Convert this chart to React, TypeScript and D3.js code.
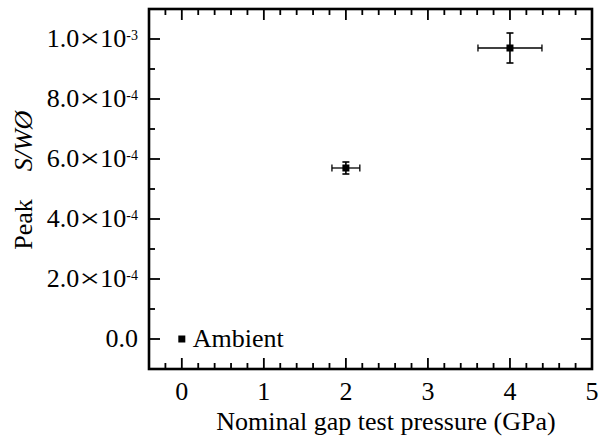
import React from 'react';
import * as d3 from 'd3';

// data
const pressure = [0, 2, 4];
const peak = [0, 5.7e-4, 9.7e-4];
const pressureErr = [0, 0.17, 0.39];
const peakErr = [0, 2e-5, 5e-5];
const pointLabels = ['Ambient', '', ''];

const xTicks = [0, 1, 2, 3, 4, 5];
const yTicks = [0, 2e-4, 4e-4, 6e-4, 8e-4, 1e-3];
const yTickMantissa = ['0.0', '2.0', '4.0', '6.0', '8.0', '1.0'];
const yTickExp = ['', '-4', '-4', '-4', '-4', '-3'];

const W = 602;
const H = 439;
const margin = { top: 9, right: 10, bottom: 70, left: 149 };
const width = W - margin.left - margin.right;
const height = H - margin.top - margin.bottom;
const font = '"Liberation Serif", "Times New Roman", Times, serif';
const fs = 26;

export default function App() {
	const x = d3.scaleLinear().domain([-0.4, 5]).range([0, width]);
	const y = d3.scaleLinear().domain([-1e-4, 1.1e-3]).range([height, 0]);

	// minor ticks every 0.2 GPa and 1e-4
	const xMinor = d3.range(-1, 26).map(i => i * 0.2).filter(v => v > -0.39 && v < 4.99);
	const yMinor = d3.range(0, 11).map(i => i * 1e-4);
	const isXMajor = (v: number) => Math.abs(v - Math.round(v)) < 1e-6;
	const isYMajor = (v: number) => Math.abs(v / 2e-4 - Math.round(v / 2e-4)) < 1e-6;

	const tw = 1.8; // tick width
	const cap = 3.5;

	return (
		<svg width={W} height={H} style={{ position: 'absolute', left: 0, top: 0 }}>
			<rect width={W} height={H} fill="#fff" />
			<g transform={`translate(${margin.left},${margin.top})`}>
				{/* ticks inward on every side */}
				{xMinor.map((v, i) => {
					const len = isXMajor(v) ? 11 : 6;
					return (
						<g key={'x' + i} fill="#000">
							<rect x={x(v) - tw / 2} y={height - len} width={tw} height={len} />
							<rect x={x(v) - tw / 2} y={0} width={tw} height={len} />
						</g>
					);
				})}
				{yMinor.map((v, i) => {
					const len = isYMajor(v) ? 11 : 6;
					return (
						<g key={'y' + i} fill="#000">
							<rect x={0} y={y(v) - tw / 2} width={len} height={tw} />
							<rect x={width - len} y={y(v) - tw / 2} width={len} height={tw} />
						</g>
					);
				})}
				<rect x={0} y={0} width={width} height={height} fill="none" stroke="#000" strokeWidth={2.6} />

				{xTicks.map(d => (
					<text key={d} x={x(d)} y={height + 31} textAnchor="middle" fontFamily={font} fontSize={fs}>
						{d}
					</text>
				))}

				{yTicks.map((v, i) => (
					<text key={i} x={-11} y={y(v) + 8} textAnchor="end" fontFamily={font} fontSize={fs}>
						{yTickExp[i] === '' ? (
							yTickMantissa[i]
						) : (
							<>
								<tspan>{yTickMantissa[i]}</tspan>
								<tspan textLength={21} lengthAdjust="spacingAndGlyphs">{'\u00d7'}</tspan>
								<tspan>10</tspan>
								<tspan fontSize={14} dy={-7}>{yTickExp[i]}</tspan>
							</>
						)}
					</text>
				))}

				{/* error bars and markers */}
				{pressure.map((p, i) => {
					const cx = x(p);
					const cy = y(peak[i]);
					const a = x(p - pressureErr[i]);
					const b = x(p + pressureErr[i]);
					const lo = y(peak[i] - peakErr[i]);
					const hi = y(peak[i] + peakErr[i]);
					return (
						<g key={i}>
							<g stroke="#000" strokeWidth={1.3} fill="none">
								{pressureErr[i] > 0 && (
									<>
										<line x1={a} x2={b} y1={cy} y2={cy} />
										<line x1={a} x2={a} y1={cy - cap} y2={cy + cap} />
										<line x1={b} x2={b} y1={cy - cap} y2={cy + cap} />
									</>
								)}
								{peakErr[i] > 0 && (
									<>
										<line x1={cx} x2={cx} y1={lo} y2={hi} strokeWidth={1.6} />
										<line x1={cx - cap} x2={cx + cap} y1={lo} y2={lo} strokeWidth={1.6} />
										<line x1={cx - cap} x2={cx + cap} y1={hi} y2={hi} strokeWidth={1.6} />
									</>
								)}
							</g>
							<rect x={cx - 3.5} y={cy - 3.5} width={7} height={7} fill="#000" />
						</g>
					);
				})}

				{pointLabels.map((lab, i) =>
					lab ? (
						<text key={i} x={x(pressure[i]) + 11} y={y(peak[i]) + 8} fontFamily={font} fontSize={fs}>
							{lab}
						</text>
					) : null
				)}
			</g>

			<text x={386} y={430} textAnchor="middle" fontFamily={font} fontSize={fs}>
				Nominal gap test pressure (GPa)
			</text>
			<text transform="translate(32,224.5) rotate(-90)" textAnchor="middle" fontFamily={font} fontSize={fs}>
				Peak
			</text>
			<text transform="translate(32,141) rotate(-90)" textAnchor="middle" fontFamily={font} fontSize={fs} fontStyle="italic">
				S/W{'\u00d8'}
			</text>
		</svg>
	);
}
